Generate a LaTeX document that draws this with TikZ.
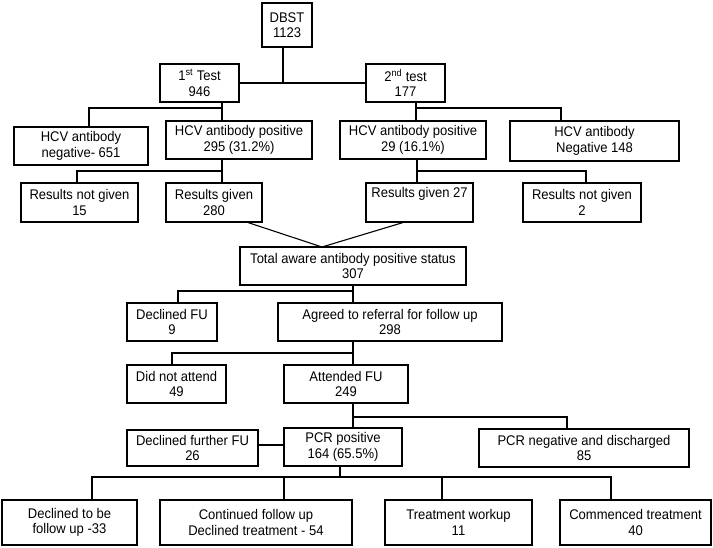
\documentclass[tikz,border=0pt]{standalone}
\usepackage{fontspec}
\setmainfont{Liberation Sans}[FakeStretch=0.93]
\begin{document}
\begin{tikzpicture}[x=1pt,y=-1pt,
  box/.style={draw, line width=1.1pt, rectangle, inner sep=0pt, align=center,
    font=\fontsize{14}{15.5}\selectfont},
  conn/.style={line width=1.1pt}]
\useasboundingbox (0,0) rectangle (713,548);
% nodes
\node[box, minimum width=50, minimum height=44] (dbst) at (287,25) {DBST\\1123};
\node[box, minimum width=79, minimum height=38] (t1) at (199.5,83) {1\textsuperscript{st} Test\\946};
\node[box, minimum width=79, minimum height=38] (t2) at (405.5,83) {2\textsuperscript{nd} test\\177};
\node[box, minimum width=134, minimum height=38] (neg1) at (81,146) {HCV antibody\\negative- 651};
\node[box, minimum width=146, minimum height=38] (pos1) at (239,140) {HCV antibody positive\\295 (31.2\%)};
\node[box, minimum width=146, minimum height=38] (pos2) at (413,140) {HCV antibody positive\\29 (16.1\%)};
\node[box, minimum width=169, minimum height=40] (neg2) at (594.5,141) {HCV antibody\\Negative 148};
\node[box, minimum width=117, minimum height=39] (rng1) at (79.5,202.5) {Results not given\\15};
\node[box, minimum width=96, minimum height=39] (rg1) at (214,202.5) {Results given\\280};
\node[box, minimum width=107, minimum height=39] (rg2) at (419.5,202.5) {Results given 27\\\strut};
\node[box, minimum width=118, minimum height=39] (rng2) at (582,202.5) {Results not given\\2};
\node[box, minimum width=226, minimum height=38] (total) at (353,266) {Total aware antibody positive status\\307};
\node[box, minimum width=90, minimum height=38] (decfu) at (172,322) {Declined FU\\9};
\node[box, minimum width=224, minimum height=38] (agreed) at (390,322) {Agreed to referral for follow up\\298};
\node[box, minimum width=99, minimum height=38] (dna) at (176.5,384) {Did not attend\\49};
\node[box, minimum width=124, minimum height=38] (att) at (346,384) {Attended FU\\249};
\node[box, minimum width=131, minimum height=36] (decfur) at (192.5,448) {Declined further FU\\26};
\node[box, minimum width=118, minimum height=38] (pcrpos) at (343,447) {PCR positive\\164 (65.5\%)};
\node[box, minimum width=210, minimum height=38] (pcrneg) at (584,448) {PCR negative and discharged\\85};
\node[box, minimum width=135, minimum height=45] (b1) at (69.5,522.5) {Declined to be\\follow up -33};
\node[box, minimum width=192, minimum height=45] (b2) at (256,522.5) {Continued follow up\\Declined treatment - 54};
\node[box, minimum width=147, minimum height=45] (b3) at (458.5,522.5) {Treatment workup\\11};
\node[box, minimum width=151, minimum height=45] (b4) at (635.5,522.5) {Commenced treatment\\40};
% junctions
\coordinate (j0) at (283,83);
\coordinate (j1) at (222,108);
\coordinate (j1l) at (89,108);
\coordinate (j2) at (416,108);
\coordinate (j2r) at (561,108);
\coordinate (j3) at (222,171);
\coordinate (j3l) at (77,171);
\coordinate (j4) at (417,171);
\coordinate (j4r) at (586,171);
\coordinate (k1) at (248,0);
\coordinate (k2) at (403,0);
\coordinate (apex) at (322,247);
\coordinate (j5) at (353,291);
\coordinate (j5l) at (178,291);
\coordinate (j6) at (353,353);
\coordinate (j6l) at (172,353);
\coordinate (j7) at (353,417);
\coordinate (j7r) at (567,417);
\coordinate (j8) at (0,445);
\coordinate (j9) at (340,477);
\coordinate (m1) at (92,477);
\coordinate (m2) at (284,477);
\coordinate (m3) at (442,477);
\coordinate (m4) at (611,477);
% connectors
\draw[conn] (dbst.south -| j0) -- (j0);
\draw[conn] (t1.east) -- (t2.west);
\draw[conn] (t1.south -| j1) -- (pos1.north -| j1);
\draw[conn] (j1) -- (j1l) -- (neg1.north -| j1l);
\draw[conn] (t2.south -| j2) -- (pos2.north -| j2);
\draw[conn] (j2) -- (j2r) -- (neg2.north -| j2r);
\draw[conn] (pos1.south -| j3) -- (rg1.north -| j3);
\draw[conn] (j3) -- (j3l) -- (rng1.north -| j3l);
\draw[conn] (pos2.south -| j4) -- (rg2.north -| j4);
\draw[conn] (j4) -- (j4r) -- (rng2.north -| j4r);
\draw[conn] (rg1.south -| k1) -- (apex) -- (rg2.south -| k2);
\draw[conn] (total.south -| j5) -- (agreed.north -| j5);
\draw[conn] (j5) -- (j5l) -- (decfu.north -| j5l);
\draw[conn] (agreed.south -| j6) -- (att.north -| j6);
\draw[conn] (j6) -- (j6l) -- (dna.north -| j6l);
\draw[conn] (att.south -| j7) -- (pcrpos.north -| j7);
\draw[conn] (j7) -- (j7r) -- (pcrneg.north -| j7r);
\draw[conn] (decfur.east |- j8) -- (pcrpos.west |- j8);
\draw[conn] (pcrpos.south -| j9) -- (j9);
\draw[conn] (b1.north -| m1) -- (m1) -- (m4) -- (b4.north -| m4);
\draw[conn] (m2) -- (b2.north -| m2);
\draw[conn] (m3) -- (b3.north -| m3);
\end{tikzpicture}
\end{document}
